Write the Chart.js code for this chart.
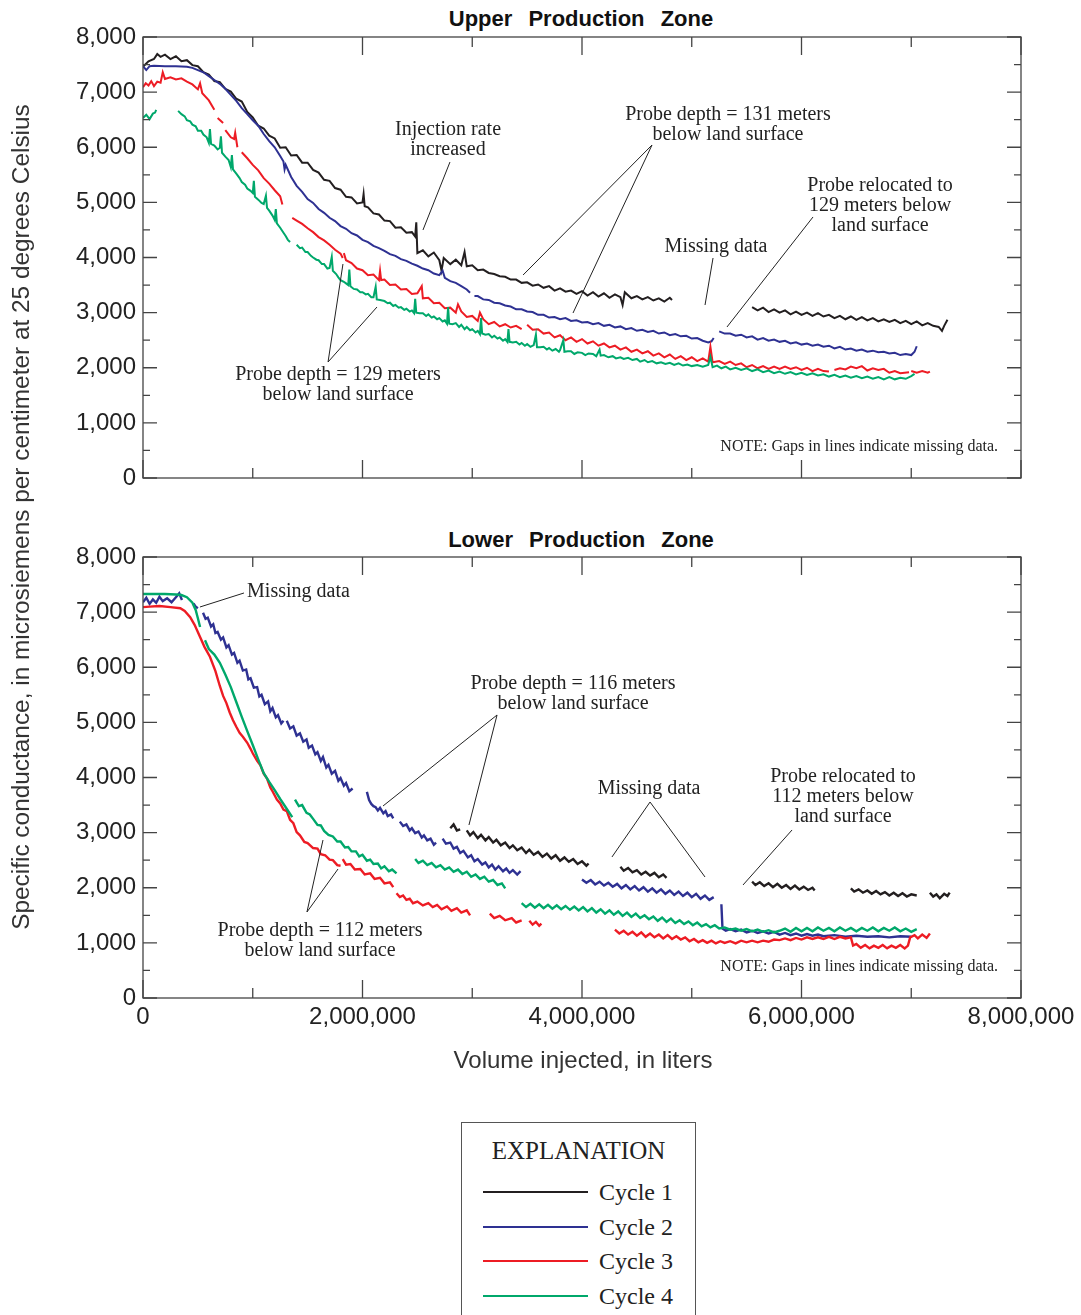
<!DOCTYPE html>
<html>
<head>
<meta charset="utf-8">
<title>Specific conductance, upper and lower production zones</title>
<script src="https://cdn.jsdelivr.net/npm/chart.js@4.4.1/dist/chart.umd.min.js"></script>
<style>
  body { margin: 0; background: #fff; overflow: hidden; }
  #wrap { position: relative; width: 1081px; height: 1315px; background: #fff; overflow: hidden; }
  canvas { position: absolute; left: 0; }
  .ptitle { position: absolute; left: 381px; width: 400px; text-align: center; font: bold 22px "Liberation Sans", Arial, sans-serif; word-spacing: 10px; color: #111; line-height: 26px; }
  #ytitle { position: absolute; left: -428px; top: 502px; width: 900px; height: 30px; line-height: 30px; text-align: center; transform: rotate(-90deg); font: 24.4px "Liberation Sans", Arial, sans-serif; color: #333; white-space: nowrap; }
  #xtitle { position: absolute; left: 383px; top: 1046px; width: 400px; text-align: center; font: 24px "Liberation Sans", Arial, sans-serif; color: #333; line-height: 28px; }
  #legend { position: absolute; left: 461px; top: 1122px; width: 233px; height: 220px; border: 1.5px solid #555; font-family: "Liberation Serif", "Times New Roman", serif; color: #222; }
  #legend .head { position: absolute; left: 0; top: 13px; width: 100%; text-align: center; font-size: 25px; line-height: 30px; }
  #legend .row { position: absolute; left: 21px; height: 30px; }
  #legend .swatch { position: absolute; left: 0; top: 14px; width: 105px; height: 2px; }
  #legend .lbl { position: absolute; left: 116px; top: 0; font-size: 24px; line-height: 30px; white-space: nowrap; }
</style>
</head>
<body>
<div id="wrap">
  <div class="ptitle" style="top:6px">Upper Production Zone</div>
  <div class="ptitle" style="top:527px">Lower Production Zone</div>
  <canvas id="upper" width="1081" height="500" style="top:0"></canvas>
  <canvas id="lower" width="1081" height="530" style="top:520px"></canvas>
  <div id="ytitle">Specific conductance, in microsiemens per centimeter at 25 degrees Celsius</div>
  <div id="xtitle">Volume injected, in liters</div>
  <div id="legend"><div class="head">EXPLANATION</div></div>
</div>
<script>
// volume in thousands of liters, conductance in microsiemens per centimeter
const cycleLabels = ['Cycle 1', 'Cycle 2', 'Cycle 3', 'Cycle 4'];
const cycleColors = ['#231f20', '#2e3192', '#ed1c24', '#00a86b'];

const upperCycle1 = [
  [0,7460],[50,7560],[100,7600],[130,7690],[160,7640],[200,7680],[250,7600],[300,7650],[350,7560],[400,7580],
  [450,7490],[500,7470],[550,7360],[600,7320],[650,7200],[700,7180],[750,7060],[800,7010],[850,6880],[900,6830],
  [950,6640],[1000,6540],[1050,6390],[1100,6340],[1150,6210],[1200,6160],[1250,5990],[1300,6000],[1350,5850],[1400,5860],
  [1450,5720],[1500,5720],[1550,5590],[1600,5540],[1650,5410],[1700,5390],[1750,5260],[1800,5230],[1850,5100],[1900,5090],
  [1950,4980],[2000,5000],[2010,5150],[2020,4930],[2050,4910],[2100,4800],[2150,4780],[2200,4670],[2250,4660],[2300,4540],
  [2350,4550],[2400,4450],[2450,4460],[2480,4380],[2490,4640],[2500,4080],[2550,4130],[2600,4020],[2650,4090],[2700,3950],
  [2720,3760],[2740,3990],[2800,3880],[2850,3960],[2900,3860],[2930,4100],[2950,3840],[3000,3860],[3050,3770],[3100,3780],
  [3150,3720],[3200,3700],[3250,3660],[3300,3650],[3350,3600],[3400,3600],[3450,3540],[3500,3550],[3550,3490],[3600,3510],
  [3650,3450],[3700,3480],[3750,3400],[3800,3440],[3850,3380],[3900,3400],[3950,3340],[4000,3390],[4050,3310],[4100,3370],
  [4150,3290],[4200,3350],[4250,3270],[4300,3330],[4350,3280],[4370,3140],[4390,3370],[4450,3260],[4500,3300],[4550,3240],
  [4600,3280],[4650,3220],[4700,3260],[4750,3200],[4800,3270],[4820,3230],[4830,null],
  [5550,3100],[5600,3040],[5650,3090],[5700,3010],[5750,3060],[5800,3000],[5850,3040],[5900,2970],[5950,3020],[6000,2960],
  [6050,3000],[6100,2940],[6150,2990],[6200,2930],[6250,2960],[6300,2900],[6350,2940],[6400,2880],[6450,2930],[6500,2870],
  [6550,2920],[6600,2860],[6650,2900],[6700,2840],[6750,2880],[6800,2830],[6850,2870],[6900,2810],[6950,2850],[7000,2790],
  [7050,2840],[7100,2770],[7150,2810],[7200,2760],[7250,2740],[7280,2670],[7300,2760],[7330,2870]
];

const upperCycle2 = [
  [0,7470],[30,7400],[60,7470],[100,7480],[200,7470],[300,7470],[400,7460],[450,7440],[500,7400],[550,7360],
  [600,7290],[650,7220],[700,7150],[750,7060],[800,6950],[850,6840],[900,6710],[950,6600],[1000,6490],[1050,6390],
  [1100,6240],[1150,6110],[1200,6000],[1250,5840],[1280,5740],[1290,5600],[1300,5680],[1350,5460],[1400,5300],[1450,5190],
  [1500,5060],[1550,4990],[1600,4880],[1650,4810],[1700,4720],[1750,4660],[1800,4570],[1850,4520],[1900,4440],[1950,4400],
  [2000,4320],[2050,4280],[2100,4210],[2150,4170],[2200,4120],[2250,4060],[2300,4030],[2350,3970],[2400,3940],[2450,3890],
  [2500,3850],[2550,3800],[2600,3770],[2650,3710],[2700,3680],[2730,3760],[2750,3630],[2800,3570],[2850,3540],[2900,3480],
  [2950,3420],[2980,3360],[3000,null],
  [3020,3300],[3050,3300],[3100,3240],[3150,3230],[3200,3180],[3250,3170],[3300,3130],[3350,3110],[3400,3060],[3450,3060],
  [3500,3020],[3550,3010],[3600,2960],[3650,2960],[3700,2910],[3750,2920],[3800,2880],[3850,2900],[3900,2850],[3950,2860],
  [4000,2820],[4050,2830],[4100,2790],[4150,2810],[4200,2760],[4250,2780],[4300,2730],[4350,2750],[4400,2700],[4450,2720],
  [4500,2670],[4550,2690],[4600,2650],[4650,2670],[4700,2620],[4750,2640],[4800,2590],[4850,2610],[4900,2570],[4950,2580],
  [5000,2530],[5050,2540],[5100,2490],[5150,2460],[5180,2480],[5200,2540],[5220,null],
  [5250,2660],[5300,2620],[5350,2620],[5400,2580],[5450,2600],[5500,2550],[5550,2570],[5600,2510],[5650,2540],[5700,2490],
  [5750,2510],[5800,2470],[5850,2490],[5900,2440],[5950,2460],[6000,2420],[6050,2440],[6100,2400],[6150,2420],[6200,2380],
  [6250,2400],[6300,2350],[6350,2380],[6400,2330],[6450,2350],[6500,2310],[6550,2330],[6600,2290],[6650,2310],[6700,2280],
  [6750,2290],[6800,2260],[6850,2270],[6900,2230],[6950,2250],[7000,2230],[7030,2290],[7050,2390]
];

const upperCycle3 = [
  [0,7090],[25,7160],[50,7120],[75,7200],[100,7110],[130,7190],[160,7170],[180,7360],[200,7240],[250,7270],
  [300,7230],[350,7250],[400,7190],[450,7140],[500,7050],[520,7160],[540,6980],[600,6850],[650,6680],[660,null],
  [680,6530],[730,6440],[740,null],
  [750,6310],[800,6180],[830,6150],[840,6260],[860,6000],[870,null],
  [900,5910],[950,5800],[1000,5680],[1050,5580],[1100,5440],[1150,5340],[1200,5220],[1250,5110],[1270,4960],[1280,null],
  [1360,4720],[1400,4670],[1450,4610],[1500,4530],[1550,4460],[1600,4370],[1650,4310],[1700,4230],[1750,4140],[1800,4070],
  [1820,3990],[1825,null],
  [1830,4080],[1850,3950],[1900,3900],[1950,3800],[2000,3770],[2050,3680],[2100,3690],[2150,3590],[2160,3760],[2170,3590],
  [2200,3600],[2250,3500],[2300,3510],[2350,3420],[2400,3430],[2450,3340],[2500,3350],[2540,3480],[2550,3260],[2600,3270],
  [2650,3170],[2700,3180],[2750,3080],[2800,3090],[2850,3000],[2870,3150],[2900,3020],[2950,2920],[3000,2940],[3050,2850],
  [3070,3000],[3100,2880],[3150,2790],[3200,2830],[3250,2750],[3300,2790],[3350,2730],[3400,2760],[3450,2700],[3470,null],
  [3500,2780],[3550,2690],[3600,2700],[3650,2620],[3700,2640],[3750,2550],[3800,2590],[3850,2500],[3900,2550],[3950,2470],
  [4000,2520],[4050,2440],[4100,2480],[4150,2400],[4200,2440],[4250,2370],[4300,2400],[4350,2330],[4400,2370],[4450,2290],
  [4500,2330],[4550,2260],[4600,2300],[4650,2220],[4700,2260],[4750,2190],[4800,2240],[4850,2160],[4900,2210],[4950,2140],
  [5000,2190],[5050,2120],[5100,2170],[5150,2110],[5170,2380],[5190,2100],[5250,2120],[5300,2070],[5350,2110],[5400,2050],
  [5450,2080],[5500,2010],[5550,2050],[5600,1990],[5650,2030],[5700,1980],[5750,2020],[5800,1980],[5850,2020],[5900,1980],
  [5950,2010],[6000,1960],[6050,2000],[6100,1940],[6150,1980],[6200,1940],[6250,1930],[6270,null],
  [6300,1960],[6350,1990],[6400,1970],[6450,2020],[6500,1990],[6550,2030],[6600,1950],[6650,1990],[6700,1960],[6750,1980],
  [6800,1910],[6850,1940],[6900,1900],[6980,1920],[6990,null],
  [7000,1940],[7050,1910],[7100,1940],[7150,1910],[7170,1930]
];

const upperCycle4 = [
  [0,6530],[30,6590],[60,6510],[90,6610],[110,6630],[120,6680],[130,null],
  [320,6660],[350,6600],[380,6560],[400,6490],[430,6470],[450,6410],[480,6380],[500,6300],[530,6300],[550,6230],
  [580,6180],[600,6080],[610,6330],[620,6060],[650,6030],[680,5960],[700,5990],[710,6200],[720,5900],[750,5830],
  [780,5770],[800,5640],[810,5860],[820,5600],[850,5520],[880,5440],[900,5370],[930,5320],[950,5250],[980,5210],
  [1000,5170],[1010,5390],[1020,5100],[1050,5050],[1080,4990],[1100,4970],[1120,5120],[1130,4900],[1150,4850],[1180,4760],
  [1200,4680],[1210,4880],[1220,4620],[1250,4540],[1280,4450],[1300,4390],[1320,4320],[1340,4280],[1350,null],
  [1400,4230],[1430,4170],[1450,4180],[1480,4100],[1500,4100],[1530,4030],[1550,4000],[1580,3960],[1600,3950],[1630,3880],
  [1650,3880],[1680,3800],[1700,3810],[1720,4010],[1730,3760],[1760,3700],[1780,3640],[1800,3590],[1830,3560],[1850,3530],
  [1870,3500],[1880,3780],[1890,3480],[1920,3430],[1950,3420],[1980,3370],[2000,3370],[2030,3330],[2050,3340],[2080,3280],
  [2100,3280],[2120,3470],[2130,3240],[2160,3230],[2200,3210],[2230,3170],[2250,3180],[2280,3120],[2300,3140],[2330,3090],
  [2350,3100],[2380,3050],[2400,3070],[2430,3020],[2450,3040],[2470,2990],[2480,3250],[2490,3000],[2520,2990],[2550,2990],
  [2580,2940],[2600,2970],[2630,2910],[2650,2930],[2680,2880],[2700,2900],[2730,2840],[2750,2860],[2770,2800],[2780,3100],
  [2790,2800],[2820,2790],[2850,2810],[2880,2740],[2900,2780],[2930,2700],[2950,2740],[2980,2680],[3000,2700],[3030,2640],
  [3050,2670],[3070,2610],[3080,2900],[3090,2620],[3120,2600],[3150,2610],[3180,2550],[3200,2580],[3230,2530],[3250,2550],
  [3280,2490],[3300,2520],[3320,2470],[3330,2700],[3340,2470],[3370,2460],[3400,2470],[3430,2420],[3450,2450],[3480,2400],
  [3500,2430],[3530,2380],[3560,2410],[3580,2600],[3590,2370],[3620,2370],[3650,2380],[3680,2330],[3700,2360],[3730,2310],
  [3760,2340],[3790,2290],[3800,2320],[3830,2500],[3840,2290],[3870,2300],[3900,2300],[3930,2250],[3960,2280],[4000,2270],
  [4030,2230],[4060,2260],[4100,2250],[4130,2210],[4160,2330],[4170,2220],[4200,2230],[4240,2190],[4280,2210],[4310,2170],
  [4350,2190],[4380,2160],[4420,2180],[4460,2140],[4500,2160],[4530,2110],[4570,2140],[4600,2100],[4640,2120],[4680,2080],
  [4720,2100],[4760,2070],[4800,2090],[4840,2050],[4880,2080],[4920,2040],[4960,2060],[5000,2030],[5050,2050],[5100,2020],
  [5150,2050],[5170,2200],[5190,2010],[5230,2040],[5270,1990],[5310,2020],[5350,1970],[5400,2000],[5450,1960],[5500,1990],
  [5550,1940],[5600,1970],[5650,1920],[5700,1950],[5750,1900],[5800,1930],[5850,1890],[5900,1920],[5950,1880],[6000,1910],
  [6050,1870],[6100,1900],[6150,1860],[6200,1880],[6250,1840],[6300,1870],[6350,1830],[6400,1860],[6450,1820],[6500,1850],
  [6550,1810],[6600,1840],[6650,1800],[6700,1830],[6750,1790],[6800,1830],[6850,1790],[6900,1820],[6950,1800],[7000,1850],
  [7030,1890]
];

const lowerCycle1 = [
  [2800,3080],[2830,3150],[2860,3040],[2890,3060],[2900,null],
  [2950,3040],[2980,2950],[3010,3010],[3050,2900],[3080,2960],[3120,2860],[3150,2920],[3190,2820],[3220,2870],[3260,2770],
  [3300,2820],[3340,2720],[3370,2770],[3410,2680],[3450,2730],[3490,2630],[3520,2690],[3560,2600],[3600,2650],[3640,2560],
  [3680,2620],[3720,2530],[3760,2590],[3800,2490],[3840,2550],[3880,2470],[3920,2520],[3960,2430],[4000,2480],[4040,2400],
  [4060,2440],[4070,null],
  [4350,2380],[4380,2310],[4420,2360],[4460,2280],[4500,2320],[4540,2240],[4580,2290],[4620,2220],[4660,2270],[4700,2190],
  [4740,2240],[4770,2180],[4780,null],
  [5550,2110],[5580,2050],[5620,2100],[5660,2030],[5700,2080],[5740,2010],[5780,2070],[5820,2000],[5860,2050],[5900,1980],
  [5940,2040],[5980,1970],[6020,2020],[6060,1960],[6100,2000],[6120,1950],[6130,null],
  [6450,1990],[6480,1930],[6520,1970],[6560,1910],[6600,1950],[6640,1890],[6680,1940],[6720,1880],[6760,1920],[6800,1860],
  [6840,1910],[6880,1850],[6920,1900],[6960,1840],[7000,1880],[7050,1860],[7060,null],
  [7170,1910],[7200,1840],[7230,1880],[7260,1810],[7300,1890],[7330,1850],[7350,1910]
];

const lowerCycle2 = [
  [0,7180],[30,7260],[60,7150],[90,7230],[120,7170],[150,7280],[180,7200],[220,7250],[260,7180],[300,7270],
  [330,7340],[355,7220],[360,null],
  [460,7160],[480,7100],[500,7070],[510,null],
  [547,6990],[570,6880],[590,6900],[620,6740],[640,6780],[660,6620],[680,6640],[710,6500],[730,6540],[760,6360],
  [780,6400],[810,6230],[830,6260],[860,6080],[880,6120],[910,5940],[940,5960],[960,5780],[980,5800],[1010,5630],
  [1040,5640],[1060,5470],[1080,5500],[1110,5330],[1140,5380],[1160,5200],[1180,5260],[1210,5090],[1230,5130],[1260,4980],
  [1280,5030],[1290,null],
  [1310,5030],[1340,4890],[1370,4930],[1400,4760],[1430,4800],[1460,4650],[1490,4690],[1510,4540],[1540,4580],[1570,4420],
  [1590,4460],[1620,4300],[1640,4370],[1670,4180],[1690,4230],[1720,4070],[1750,4120],[1780,3940],[1800,3990],[1830,3850],
  [1850,3900],[1880,3750],[1910,3800],[1920,null],
  [2040,3740],[2060,3590],[2080,3520],[2100,3480],[2120,3460],[2140,3400],[2160,3450],[2190,3350],[2210,3390],[2230,3300],
  [2260,3330],[2280,3260],[2290,null],
  [2340,3200],[2370,3120],[2400,3150],[2430,3040],[2450,3080],[2480,2990],[2510,3020],[2540,2910],[2560,2950],[2590,2860],
  [2620,2890],[2650,2780],[2670,2820],[2680,null],
  [2730,2890],[2760,2800],[2800,2820],[2830,2710],[2860,2740],[2890,2630],[2920,2670],[2960,2550],[2990,2590],[3020,2480],
  [3050,2520],[3090,2420],[3120,2460],[3150,2370],[3180,2420],[3210,2330],[3240,2390],[3280,2300],[3310,2350],[3340,2270],
  [3370,2320],[3410,2240],[3440,2300],[3450,null],
  [4000,2150],[4040,2090],[4080,2140],[4120,2060],[4160,2110],[4200,2040],[4240,2090],[4280,2020],[4320,2070],[4360,1990],
  [4400,2050],[4440,1970],[4480,2030],[4520,1950],[4560,2010],[4600,1930],[4640,1990],[4680,1910],[4720,1970],[4760,1890],
  [4800,1950],[4840,1870],[4880,1930],[4920,1850],[4960,1910],[5000,1830],[5040,1890],[5080,1800],[5120,1860],[5160,1780],
  [5200,1830],[5210,null],
  [5270,1700],[5280,1260],[5310,1220],[5350,1250],[5400,1210],[5450,1240],[5500,1190],[5550,1220],[5600,1180],[5650,1210],
  [5700,1170],[5750,1200],[5800,1150],[5850,1180],[5900,1140],[5950,1170],[6000,1130],[6050,1160],[6100,1130],[6150,1150],
  [6200,1120],[6300,1140],[6400,1110],[6500,1130],[6600,1110],[6700,1120],[6800,1100],[6900,1120],[7000,1110]
];

const lowerCycle3 = [
  [0,7090],[60,7100],[150,7110],[250,7090],[340,7070],[380,7020],[430,6910],[470,6770],[520,6550],[560,6370],
  [610,6190],[660,5930],[700,5660],[730,5480],[760,5350],[790,5180],[820,5040],[850,4920],[880,4810],[910,4740],
  [950,4630],[980,4520],[1000,4440],[1040,4300],[1070,4220],[1100,4070],[1130,3980],[1160,3820],[1180,3750],[1220,3600],
  [1250,3530],[1280,3420],[1310,3390],[1340,3230],[1370,3170],[1400,3010],[1430,2950],[1470,2830],[1500,2810],[1550,2720],
  [1590,2710],[1620,2610],[1660,2590],[1700,2510],[1730,2500],[1770,2410],[1800,2400],[1810,null],
  [1820,2520],[1850,2420],[1890,2430],[1930,2330],[1980,2340],[2020,2240],[2070,2260],[2110,2160],[2160,2180],[2200,2080],
  [2250,2100],[2280,2010],[2290,null],
  [2310,1900],[2340,1830],[2370,1860],[2400,1780],[2430,1800],[2460,1720],[2500,1750],[2550,1680],[2600,1720],[2640,1650],
  [2680,1690],[2720,1610],[2770,1660],[2810,1580],[2860,1630],[2900,1550],[2950,1590],[2980,1500],[2990,null],
  [3160,1530],[3200,1450],[3250,1490],[3300,1410],[3360,1450],[3400,1370],[3450,1410],[3460,null],
  [3520,1400],[3550,1330],[3580,1380],[3610,1310],[3630,1350],[3640,null],
  [4300,1240],[4340,1170],[4380,1220],[4420,1150],[4460,1200],[4500,1130],[4540,1190],[4580,1110],[4620,1170],[4660,1100],
  [4700,1150],[4740,1080],[4780,1140],[4820,1070],[4860,1120],[4900,1060],[4940,1100],[4980,1030],[5020,1070],[5060,1010],
  [5100,1050],[5140,1000],[5180,1040],[5220,990],[5260,1030],[5300,1000],[5350,1030],[5400,990],[5450,1040],[5500,1010],
  [5550,1040],[5600,1010],[5650,1040],[5700,1020],[5750,1060],[5800,1050],[5850,1080],[5900,1050],[5950,1090],[6000,1060],
  [6050,1100],[6100,1070],[6150,1100],[6200,1070],[6250,1110],[6300,1070],[6350,1110],[6400,1080],[6450,1100],[6470,950],
  [6500,980],[6540,910],[6580,960],[6620,900],[6660,950],[6700,910],[6740,960],[6780,900],[6820,950],[6860,910],
  [6900,960],[6940,900],[6970,950],[6990,1100],[7030,1140],[7060,1080],[7100,1150],[7140,1090],[7170,1170]
];

const lowerCycle4 = [
  [0,7330],[100,7330],[200,7330],[300,7320],[350,7310],[400,7270],[450,7170],[480,7040],[500,6890],[520,6730],[530,null],
  [565,6490],[600,6330],[650,6230],[700,6080],[750,5870],[800,5640],[850,5370],[900,5100],[950,4840],[1000,4590],
  [1050,4330],[1100,4080],[1150,3920],[1200,3770],[1250,3610],[1300,3460],[1360,3280],[1370,null],
  [1385,3600],[1420,3480],[1450,3500],[1490,3360],[1520,3330],[1550,3250],[1590,3140],[1620,3130],[1650,3030],[1690,2960],
  [1730,2930],[1770,2840],[1800,2840],[1840,2730],[1870,2740],[1900,2660],[1940,2660],[1970,2570],[2000,2600],[2040,2490],
  [2070,2510],[2100,2430],[2140,2440],[2170,2350],[2200,2390],[2240,2300],[2270,2330],[2310,2260],[2320,null],
  [2480,2520],[2510,2450],[2550,2490],[2590,2410],[2630,2450],[2670,2370],[2710,2410],[2750,2330],[2790,2370],[2830,2290],
  [2870,2330],[2910,2250],[2950,2290],[2990,2200],[3030,2240],[3070,2160],[3110,2200],[3150,2110],[3190,2140],[3230,2050],
  [3270,2080],[3300,1990],[3310,null],
  [3450,1720],[3490,1650],[3530,1710],[3570,1640],[3610,1700],[3650,1630],[3690,1690],[3730,1620],[3770,1680],[3810,1610],
  [3850,1670],[3890,1600],[3930,1660],[3970,1590],[4010,1650],[4050,1570],[4090,1630],[4130,1550],[4170,1610],[4210,1530],
  [4250,1590],[4290,1510],[4330,1570],[4370,1490],[4410,1550],[4450,1470],[4490,1530],[4530,1450],[4570,1500],[4610,1430],
  [4650,1480],[4690,1400],[4730,1460],[4770,1380],[4810,1440],[4850,1360],[4890,1410],[4930,1340],[4970,1390],[5010,1320],
  [5050,1370],[5090,1300],[5130,1340],[5170,1280],[5210,1320],[5250,1260],[5300,1280],[5350,1240],[5400,1260],[5450,1220],
  [5500,1250],[5550,1210],[5600,1240],[5650,1200],[5700,1230],[5750,1190],[5800,1220],[5850,1260],[5900,1200],[5950,1270],
  [6000,1210],[6050,1270],[6100,1210],[6150,1280],[6200,1220],[6250,1270],[6300,1210],[6350,1280],[6400,1220],[6450,1270],
  [6500,1210],[6550,1270],[6600,1220],[6650,1280],[6700,1210],[6750,1270],[6800,1220],[6850,1280],[6900,1210],[6950,1260],
  [7000,1200],[7050,1250]
];

// callouts, placed in data units
const upperNotes = [
  { lines: ['Injection rate', 'increased'], x: 2779, y: 6313 },
  { lines: ['Probe depth = 131 meters', 'below land surface'], x: 5330, y: 6585 },
  { lines: ['Probe relocated to', '129 meters below', 'land surface'], x: 6716, y: 5297 },
  { lines: ['Missing data'], x: 5221, y: 4190 },
  { lines: ['Probe depth = 129 meters', 'below land surface'], x: 1777, y: 1868 },
  { lines: ['NOTE: Gaps in lines indicate missing data.'], x: 7791, y: 562, align: 'right', size: 16 }
];
const upperLeaders = [
  [2797, 5732, 2551, 4499],
  [4638, 6041, 3463, 3682],
  [4638, 6041, 3918, 2993],
  [6105, 4735, 5321, 2739],
  [5194, 3991, 5121, 3138],
  [1686, 2104, 1822, 3882],
  [1686, 2104, 2132, 3102]
];
const lowerNotes = [
  { lines: ['Missing data'], x: 948, y: 7365, align: 'left' },
  { lines: ['Probe depth = 116 meters', 'below land surface'], x: 3918, y: 5696 },
  { lines: ['Missing data'], x: 4611, y: 3791 },
  { lines: ['Probe relocated to', '112 meters below', 'land surface'], x: 6378, y: 4009 },
  { lines: ['Probe depth = 112 meters', 'below land surface'], x: 1613, y: 1215 },
  { lines: ['NOTE: Gaps in lines indicate missing data.'], x: 7791, y: 562, align: 'right', size: 16 }
];
const lowerLeaders = [
  [920, 7347, 519, 7093],
  [3226, 5134, 2187, 3483],
  [3226, 5134, 2970, 3138],
  [4620, 3555, 4273, 2558],
  [4620, 3555, 5121, 2195],
  [5914, 3048, 5467, 2050],
  [1494, 1560, 1640, 2866],
  [1494, 1560, 1777, 2340]
];

const tickFont = { family: '"Liberation Sans", Arial, sans-serif', size: 24 };

function makeDatasets(series, width) {
  return series.map((data, i) => ({
    label: cycleLabels[i],
    data: data,
    borderColor: cycleColors[i],
    backgroundColor: cycleColors[i],
    borderWidth: width,
    pointRadius: 0,
    tension: 0,
    spanGaps: false,
    fill: false,
    order: 3 - i
  }));
}

function framePlugin(notes, leaders) {
  return {
    id: 'frameAndNotes',
    afterDraw(chart) {
      const { ctx, chartArea: a, scales: { x, y } } = chart;
      ctx.save();
      ctx.strokeStyle = '#444';
      ctx.lineWidth = 1.3;
      ctx.strokeRect(a.left, a.top, a.right - a.left, a.bottom - a.top);
      // inward ticks on all four sides
      ctx.beginPath();
      y.ticks.forEach(t => {
        const py = y.getPixelForValue(t.value);
        const len = t.value % 1000 === 0 ? 14 : 7;
        ctx.moveTo(a.left, py); ctx.lineTo(a.left + len, py);
        ctx.moveTo(a.right, py); ctx.lineTo(a.right - len, py);
      });
      x.ticks.forEach(t => {
        const px = x.getPixelForValue(t.value);
        const len = t.value % 2000 === 0 ? 18 : 10;
        ctx.moveTo(px, a.top); ctx.lineTo(px, a.top + len);
        ctx.moveTo(px, a.bottom); ctx.lineTo(px, a.bottom - len);
      });
      ctx.stroke();

      ctx.strokeStyle = '#222';
      ctx.lineWidth = 1;
      ctx.beginPath();
      leaders.forEach(([x1, y1, x2, y2]) => {
        ctx.moveTo(x.getPixelForValue(x1), y.getPixelForValue(y1));
        ctx.lineTo(x.getPixelForValue(x2), y.getPixelForValue(y2));
      });
      ctx.stroke();

      ctx.fillStyle = '#222';
      ctx.textBaseline = 'middle';
      notes.forEach(n => {
        ctx.font = (n.size || 20) + 'px "Liberation Serif", "Times New Roman", serif';
        ctx.textAlign = n.align || 'center';
        const px = x.getPixelForValue(n.x);
        const py = y.getPixelForValue(n.y);
        n.lines.forEach((t, i) => ctx.fillText(t, px, py + i * 20));
      });
      ctx.restore();
    }
  };
}

function makeChart(id, series, showX, xHeight, width, notes, leaders) {
  return new Chart(document.getElementById(id), {
    type: 'line',
    data: { datasets: makeDatasets(series, width) },
    options: {
      responsive: false,
      animation: false,
      devicePixelRatio: 1,
      layout: { padding: { top: 37, right: 60, bottom: 0, left: 0 } },
      plugins: { legend: { display: false }, tooltip: { enabled: false } },
      scales: {
        x: {
          type: 'linear', min: 0, max: 8000,
          grid: { display: false, drawTicks: false },
          border: { display: false },
          ticks: {
            display: showX, stepSize: 1000, autoSkip: false, maxRotation: 0, minRotation: 0,
            padding: 5, font: tickFont, color: '#222',
            callback: v => v % 2000 === 0 ? (v * 1000).toLocaleString('en-US') : ''
          },
          afterFit: s => { s.height = xHeight; }
        },
        y: {
          type: 'linear', min: 0, max: 8000,
          grid: { display: false, drawTicks: false },
          border: { display: false },
          ticks: {
            stepSize: 500, autoSkip: false, padding: 7, font: tickFont, color: '#222',
            callback: v => v % 1000 === 0 ? v.toLocaleString('en-US') : ''
          },
          afterFit: s => { s.width = 143; }
        }
      }
    },
    plugins: [framePlugin(notes, leaders)]
  });
}

makeChart('upper', [upperCycle1, upperCycle2, upperCycle3, upperCycle4], false, 22, 2, upperNotes, upperLeaders);
makeChart('lower', [lowerCycle1, lowerCycle2, lowerCycle3, lowerCycle4], true, 52, 2.4, lowerNotes, lowerLeaders);

// legend box
const legend = document.getElementById('legend');
cycleLabels.forEach((name, i) => {
  const row = document.createElement('div');
  row.className = 'row';
  row.style.top = (54 + i * 34.7) + 'px';
  row.innerHTML = '<div class="swatch" style="background:' + cycleColors[i] + '"></div><div class="lbl">' + name + '</div>';
  legend.appendChild(row);
});
</script>
</body>
</html>
